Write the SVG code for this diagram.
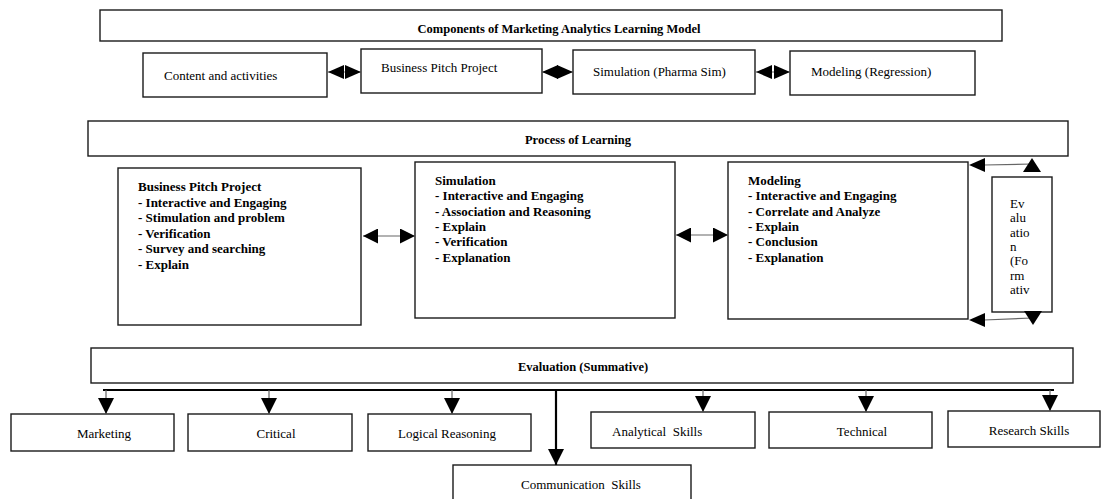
<svg xmlns="http://www.w3.org/2000/svg" width="1104" height="499" viewBox="0 0 1104 499">
<style>
text{font-family:"Liberation Serif","Times New Roman",serif;fill:#000;}
.b{font-weight:bold;font-size:13px;}
.r{font-size:13px;}
.h{font-weight:bold;font-size:12.5px;}
.box{fill:#fff;stroke:#1a1a1a;stroke-width:1.4;}
.ln{stroke:#666;stroke-width:1.2;fill:none;}
.thick{stroke:#000;stroke-width:2.2;fill:none;}
.hd{fill:#000;}
</style>
<defs>
<marker id="a1" viewBox="0 0 16 14" refX="16" refY="7" markerWidth="16" markerHeight="14" markerUnits="userSpaceOnUse" orient="auto-start-reverse"><path d="M0,0 L16,7 L0,14 z" fill="#000"/></marker>
<marker id="a2" viewBox="0 0 15 15" refX="15" refY="7.5" markerWidth="15" markerHeight="15" markerUnits="userSpaceOnUse" orient="auto-start-reverse"><path d="M0,0 L15,7.5 L0,15 z" fill="#000"/></marker>
<marker id="a3" viewBox="0 0 16 16" refX="16" refY="8" markerWidth="16" markerHeight="16" markerUnits="userSpaceOnUse" orient="auto"><path d="M0,0 L16,8 L0,16 z" fill="#000"/></marker>
</defs>

<g id="title"><rect class="box" x="100" y="10" width="902" height="31"/><text class="h" x="559" y="33" text-anchor="middle">Components of Marketing Analytics Learning Model</text></g>
<g id="content"><rect class="box" x="143" y="53" width="184" height="44"/><text class="r" x="164" y="80">Content and activities</text></g>
<g id="business"><rect class="box" x="361" y="49" width="181" height="44"/><text class="r" x="381" y="72">Business Pitch Project</text></g>
<g id="simulation"><rect class="box" x="573" y="50" width="182" height="44"/><text class="r" x="593" y="76">Simulation (Pharma Sim)</text></g>
<g id="modeling"><rect class="box" x="790" y="51" width="185" height="44"/><text class="r" x="811" y="76">Modeling (Regression)</text></g>

<g id="process"><rect class="box" x="88" y="121" width="980" height="35"/><text class="h" x="578" y="144" text-anchor="middle">Process of Learning</text></g>

<g id="bpp"><rect class="box" x="118" y="168" width="243" height="157"/>
<text class="b" x="138" y="191">Business Pitch Project</text>
<text class="b" x="138" y="206.5">- Interactive and Engaging</text>
<text class="b" x="138" y="222">- Stimulation and problem</text>
<text class="b" x="138" y="237.5">- Verification</text>
<text class="b" x="138" y="253">- Survey and searching</text>
<text class="b" x="138" y="268.5">- Explain</text></g>

<g id="sim"><rect class="box" x="415" y="162" width="260" height="156"/>
<text class="b" x="435" y="185">Simulation</text>
<text class="b" x="435" y="200.3">- Interactive and Engaging</text>
<text class="b" x="435" y="215.6">- Association and Reasoning</text>
<text class="b" x="435" y="230.9">- Explain</text>
<text class="b" x="435" y="246.2">- Verification</text>
<text class="b" x="435" y="261.5">- Explanation</text></g>

<g id="model"><rect class="box" x="728" y="162" width="240" height="157"/>
<text class="b" x="748" y="185">Modeling</text>
<text class="b" x="748" y="200.3">- Interactive and Engaging</text>
<text class="b" x="748" y="215.6">- Correlate and Analyze</text>
<text class="b" x="748" y="230.9">- Explain</text>
<text class="b" x="748" y="246.2">- Conclusion</text>
<text class="b" x="748" y="261.5">- Explanation</text></g>

<g id="formative"><rect class="box" x="992" y="177" width="60" height="135"/>
<text class="r" x="1010" y="208">Ev</text>
<text class="r" x="1010" y="222.3">alu</text>
<text class="r" x="1010" y="236.6">atio</text>
<text class="r" x="1010" y="250.9">n</text>
<text class="r" x="1010" y="265.2">(Fo</text>
<text class="r" x="1010" y="279.5">rm</text>
<text class="r" x="1010" y="293.8">ativ</text></g>

<g id="summative"><rect class="box" x="91" y="348" width="982" height="35"/><text class="h" x="583" y="371" text-anchor="middle">Evaluation (Summative)</text></g>

<g id="marketing"><rect class="box" x="11" y="414" width="163" height="37"/><text class="r" x="104" y="438" text-anchor="middle">Marketing</text></g>
<g id="critical"><rect class="box" x="188" y="414" width="164" height="37"/><text class="r" x="276" y="438" text-anchor="middle">Critical</text></g>
<g id="logical"><rect class="box" x="368" y="414" width="163" height="37"/><text class="r" x="447" y="438" text-anchor="middle">Logical Reasoning</text></g>
<g id="communication"><rect class="box" x="453" y="465" width="238" height="40"/><text class="r" x="521" y="489" style="white-space:pre">Communication  Skills</text></g>
<g id="analytical"><rect class="box" x="591" y="412" width="164" height="36"/><text class="r" x="612" y="436" style="white-space:pre">Analytical  Skills</text></g>
<g id="technical"><rect class="box" x="769" y="412" width="163" height="36"/><text class="r" x="862" y="436" text-anchor="middle">Technical</text></g>
<g id="research"><rect class="box" x="948" y="411" width="152" height="36"/><text class="r" x="1029" y="435" text-anchor="middle">Research Skills</text></g>

<g id="connectors">
<line class="ln" x1="328" y1="72" x2="361" y2="72" marker-start="url(#a1)" marker-end="url(#a1)"/>
<line class="ln" x1="542" y1="72" x2="573" y2="72" marker-start="url(#a1)" marker-end="url(#a1)"/>
<line class="ln" x1="756" y1="72" x2="790" y2="72" marker-start="url(#a1)" marker-end="url(#a1)"/>

<line class="ln" x1="363" y1="236" x2="415" y2="236" marker-start="url(#a2)" marker-end="url(#a2)"/>
<line class="ln" x1="676" y1="235" x2="728" y2="235" marker-start="url(#a2)" marker-end="url(#a2)"/>

<line class="ln" x1="984" y1="165" x2="1032" y2="164" stroke="#000"/>
<polygon class="hd" points="969,165 985,158 985,172"/>
<polygon class="hd" points="1032,158 1041,172 1023,172"/>
<line class="ln" x1="984" y1="320" x2="1032" y2="318"/>
<polygon class="hd" points="969,320 985,313 985,327"/>
<polygon class="hd" points="1033,325 1042,311 1024,311"/>

<line class="thick" x1="103" y1="390" x2="1054" y2="390" stroke-width="1.8"/>
<line class="ln" x1="106" y1="390" x2="106" y2="414" marker-end="url(#a3)"/>
<line class="ln" x1="269" y1="390" x2="269" y2="414" marker-end="url(#a3)"/>
<line class="ln" x1="452" y1="390" x2="452" y2="414" marker-end="url(#a3)"/>
<line class="ln" x1="703" y1="390" x2="703" y2="412" marker-end="url(#a3)"/>
<line class="ln" x1="866" y1="390" x2="866" y2="412" marker-end="url(#a3)"/>
<line class="ln" x1="1050" y1="390" x2="1050" y2="411" marker-end="url(#a3)"/>
<line class="thick" x1="556" y1="390" x2="556" y2="465" stroke-width="2.6" marker-end="url(#a3)"/>
</g>
</svg>
